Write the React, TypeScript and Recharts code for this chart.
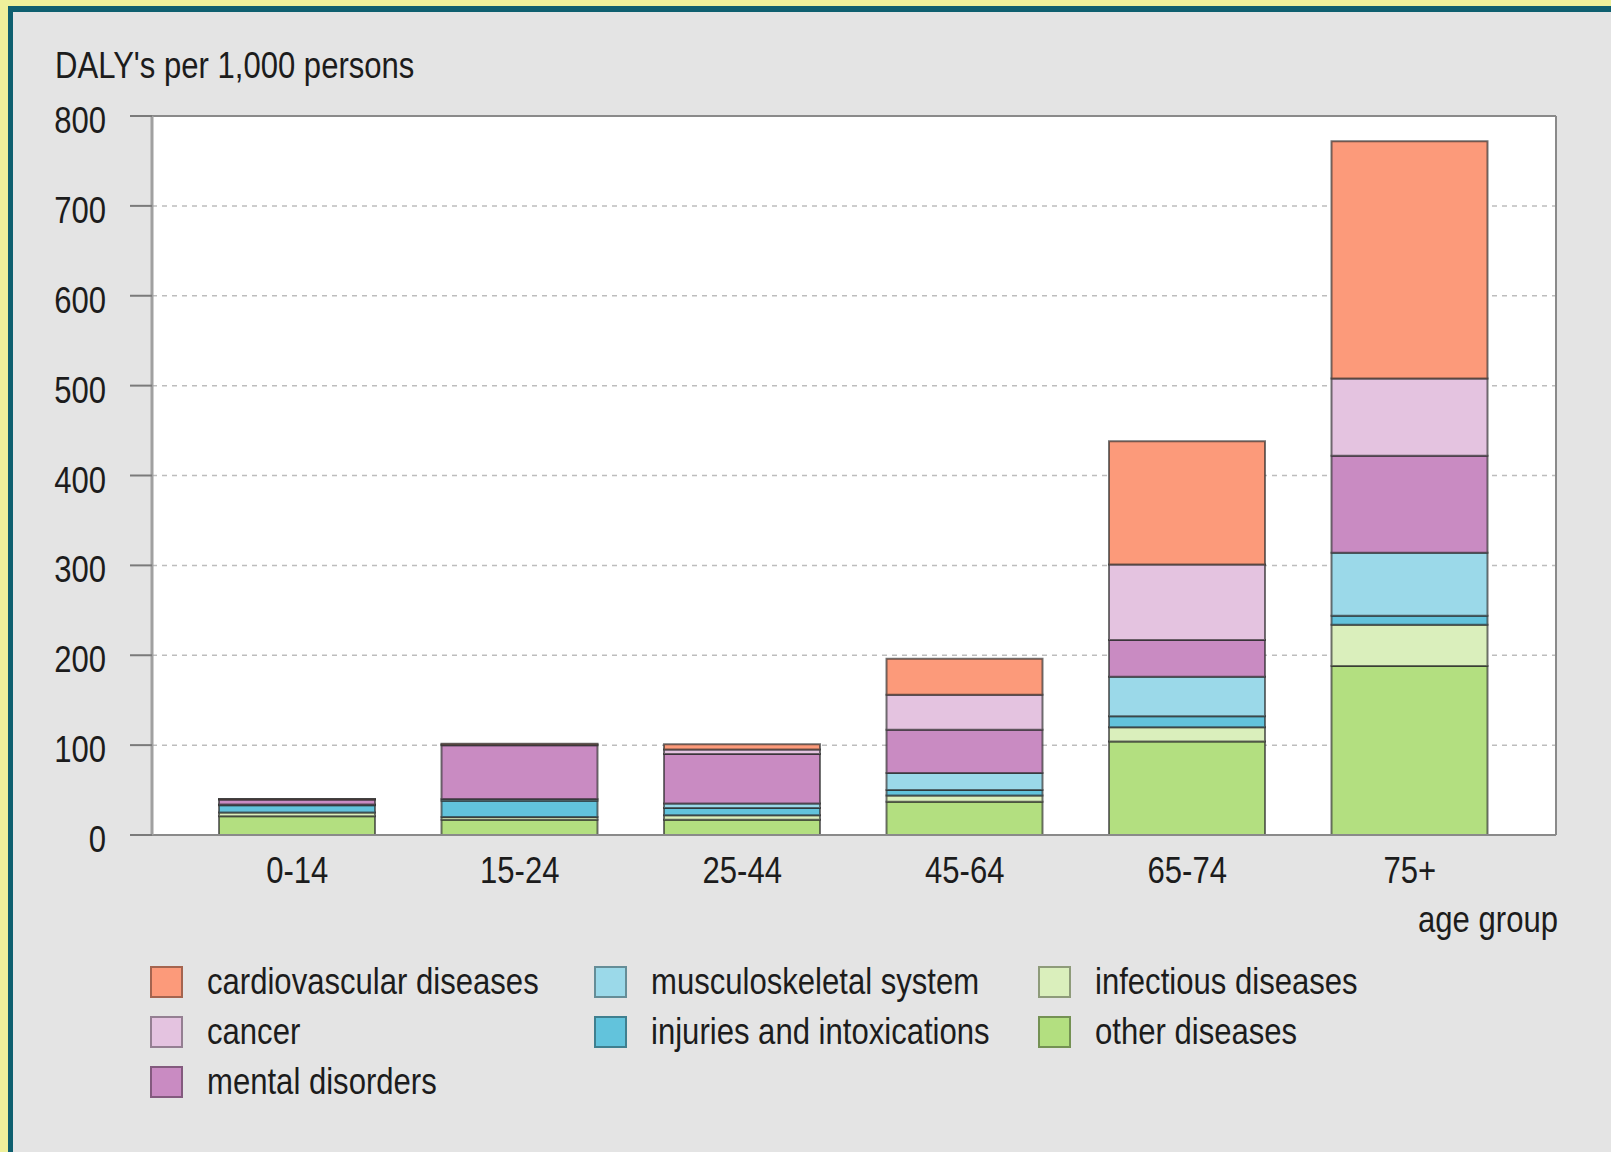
import { Bar, BarChart, CartesianGrid, Label, ReferenceLine, XAxis, YAxis } from "recharts";

// DALY's per 1,000 persons by age group, stacked by cause
const ageGroups = ["0-14", "15-24", "25-44", "45-64", "65-74", "75+"];
const otherDiseases = [21, 17, 17, 37, 104, 188];
const infectiousDiseases = [4, 3, 5, 7, 16, 46];
const injuriesIntoxications = [8, 18, 8, 6, 12, 10];
const musculoskeletal = [1, 2, 5, 19, 44, 70];
const mentalDisorders = [5.5, 60, 55, 48, 41, 108];
const cancer = [0.3, 0.8, 5, 39, 84, 86];
const cardiovascular = [0.3, 0.8, 6, 40, 137, 264];
const yTicks = [0, 100, 200, 300, 400, 500, 600, 700, 800];

// bottom to top stacking order
const series = [
  { key: "other", name: "other diseases", values: otherDiseases, color: "#b3df80" },
  { key: "infectious", name: "infectious diseases", values: infectiousDiseases, color: "#daefbc" },
  { key: "injuries", name: "injuries and intoxications", values: injuriesIntoxications, color: "#62c3dc" },
  { key: "musculo", name: "musculoskeletal system", values: musculoskeletal, color: "#9bd9e9" },
  { key: "mental", name: "mental disorders", values: mentalDisorders, color: "#c98bc2" },
  { key: "cancer", name: "cancer", values: cancer, color: "#e4c3e0" },
  { key: "cardio", name: "cardiovascular diseases", values: cardiovascular, color: "#fc9a7a" }
];

// legend is laid out column by column, three rows high
const legendColumns = [
  ["cardio", "cancer", "mental"],
  ["musculo", "injuries"],
  ["infectious", "other"]
];

const data = ageGroups.map((group, i) => {
  const row: Record<string, string | number> = { group };
  series.forEach((s) => {
    row[s.key] = s.values[i];
  });
  return row;
});

// no narrow face installed, so the regular one is squeezed horizontally
const font = "'Liberation Sans', Arial, sans-serif";
const fontSize = 37;
const narrow = 0.84;
const textColor = "#1c1c1c";
const frameStroke = "#8a8a8a";

function NarrowText({ x, y, anchor = "start", children }: any) {
  return (
    <text
      transform={`translate(${x},${y}) scale(${narrow},1)`}
      textAnchor={anchor}
      fontFamily={font}
      fontSize={fontSize}
      fill={textColor}
    >
      {children}
    </text>
  );
}

function YTick({ x, y, payload }: any) {
  return (
    <NarrowText x={x} y={y + 17} anchor="end">
      {payload.value}
    </NarrowText>
  );
}

function XTick({ x, y, payload }: any) {
  return (
    <NarrowText x={x} y={y + 48} anchor="middle">
      {payload.value}
    </NarrowText>
  );
}

function AxisTitle({ viewBox }: any) {
  return (
    <NarrowText x={55} y={viewBox.y - 38}>
      DALY's per 1,000 persons
    </NarrowText>
  );
}

function GroupLabel({ viewBox }: any) {
  return (
    <NarrowText x={viewBox.x + viewBox.width + 2} y={viewBox.y + 97} anchor="end">
      age group
    </NarrowText>
  );
}

function ChartLegend() {
  return (
    <div style={{ position: "absolute", left: 150, top: 965, display: "flex" }}>
      {legendColumns.map((col, ci) => (
        <div key={ci} style={{ width: 444 }}>
          {col.map((key) => {
            const s = series.find((item) => item.key === key)!;
            return (
              <div key={key} style={{ display: "flex", alignItems: "center", height: 50 }}>
                <span
                  style={{
                    width: 29,
                    height: 28,
                    background: s.color,
                    border: "2px solid rgba(0,0,0,0.35)",
                    marginRight: 24,
                    flex: "none",
                    position: "relative",
                    top: -8
                  }}
                />
                <span
                  style={{
                    display: "inline-block",
                    fontFamily: font,
                    fontSize,
                    color: textColor,
                    whiteSpace: "nowrap",
                    position: "relative",
                    top: -8,
                    transform: `scaleX(${narrow})`,
                    transformOrigin: "left center"
                  }}
                >
                  {s.name}
                </span>
              </div>
            );
          })}
        </div>
      ))}
    </div>
  );
}

export default function App() {
  return (
    <div style={{ position: "absolute", left: 0, top: 0, width: 1611, height: 1152, background: "#eef09b", overflow: "hidden" }}>
      <div
        style={{
          position: "absolute",
          left: 8,
          top: 6,
          right: 0,
          bottom: 0,
          background: "#e4e4e4",
          borderLeft: "5px solid #0e5f6f",
          borderTop: "6px solid #0e5f6f"
        }}
      />
      <BarChart
        width={1611}
        height={1152}
        data={data}
        margin={{ top: 116, right: 0, bottom: 0, left: 0 }}
        style={{ position: "absolute", left: 0, top: 0 }}
      >
        <CartesianGrid vertical={false} fill="#ffffff" stroke="#bdbdbd" strokeWidth={1.5} strokeDasharray="5 5" />
        <XAxis
          dataKey="group"
          height={317}
          padding={{ left: 34, right: 35 }}
          tickLine={false}
          tickSize={0}
          tickMargin={0}
          axisLine={{ stroke: frameStroke, strokeWidth: 2 }}
          tick={<XTick />}
          interval={0}
        >
          <Label content={<GroupLabel />} />
        </XAxis>
        <YAxis
          width={152}
          domain={[0, 800]}
          ticks={yTicks}
          interval={0}
          tickSize={22}
          tickMargin={24}
          tickLine={{ stroke: "#7a7a7a", strokeWidth: 2 }}
          axisLine={{ stroke: "#a0a0a0", strokeWidth: 3 }}
          tick={<YTick />}
        >
          <Label content={<AxisTitle />} />
        </YAxis>
        <YAxis
          yAxisId="frame"
          orientation="right"
          width={55}
          domain={[0, 800]}
          tick={false}
          tickLine={false}
          axisLine={{ stroke: frameStroke, strokeWidth: 2 }}
        />
        {series.map((s) => (
          <Bar
            key={s.key}
            dataKey={s.key}
            name={s.name}
            stackId="daly"
            fill={s.color}
            stroke="rgba(40,40,40,0.65)"
            strokeWidth={2}
            barSize={156}
            isAnimationActive={false}
          />
        ))}
        <ReferenceLine y={800} stroke={frameStroke} strokeWidth={2} />
      </BarChart>
      <ChartLegend />
    </div>
  );
}
